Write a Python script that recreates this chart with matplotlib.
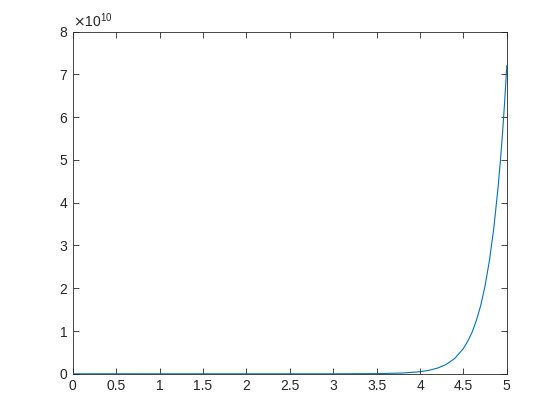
import matplotlib
matplotlib.use("Agg")
import matplotlib.pyplot as plt
from matplotlib.ticker import ScalarFormatter

# values
x_vals = [0.0, 3.0, 3.5, 3.8, 4.0, 4.1, 4.2, 4.3, 4.4, 4.5, 4.55, 4.6, 4.65, 4.7,
          4.75, 4.8, 4.85, 4.9, 4.925, 4.95, 4.975, 5.0]
y_vals = [0.0, 3.3e6, 4.0e7, 1.8e8, 4.85e8, 8.0e8, 1.32e9, 2.17e9, 3.58e9, 5.9e9,
          7.6e9, 9.7e9, 1.25e10, 1.6e10, 2.06e10, 2.65e10, 3.4e10, 4.37e10,
          4.95e10, 5.6e10, 6.35e10, 7.2e10]

plt.rcParams['font.family'] = ['Liberation Sans', 'DejaVu Sans']

fig = plt.figure(figsize=(5.6, 4.2), dpi=100)
ax = fig.add_axes([0.13, 0.11, 0.775, 0.815])
ax.plot(x_vals, y_vals, color='#0072BD', linewidth=0.8, zorder=3)

ax.set_xlim(0, 5)
ax.set_ylim(0, 8e10)
ax.set_xticks([i * 0.5 for i in range(11)])
ax.set_xticklabels(['0', '0.5', '1', '1.5', '2', '2.5', '3', '3.5', '4', '4.5', '5'])
ax.set_yticks([i * 1e10 for i in range(9)])

fmt = ScalarFormatter(useMathText=True)
fmt.set_powerlimits((0, 0))
ax.yaxis.set_major_formatter(fmt)
ax.yaxis.get_offset_text().set_fontsize(10)
ax.yaxis.get_offset_text().set_color('#262626')

ax.tick_params(direction='in', length=4, width=0.6, colors='#262626',
               labelsize=10, top=True, right=True)
for s in ax.spines.values():
    s.set_linewidth(0.6)
    s.set_color('#262626')

fig.savefig("out.png", dpi=100)
